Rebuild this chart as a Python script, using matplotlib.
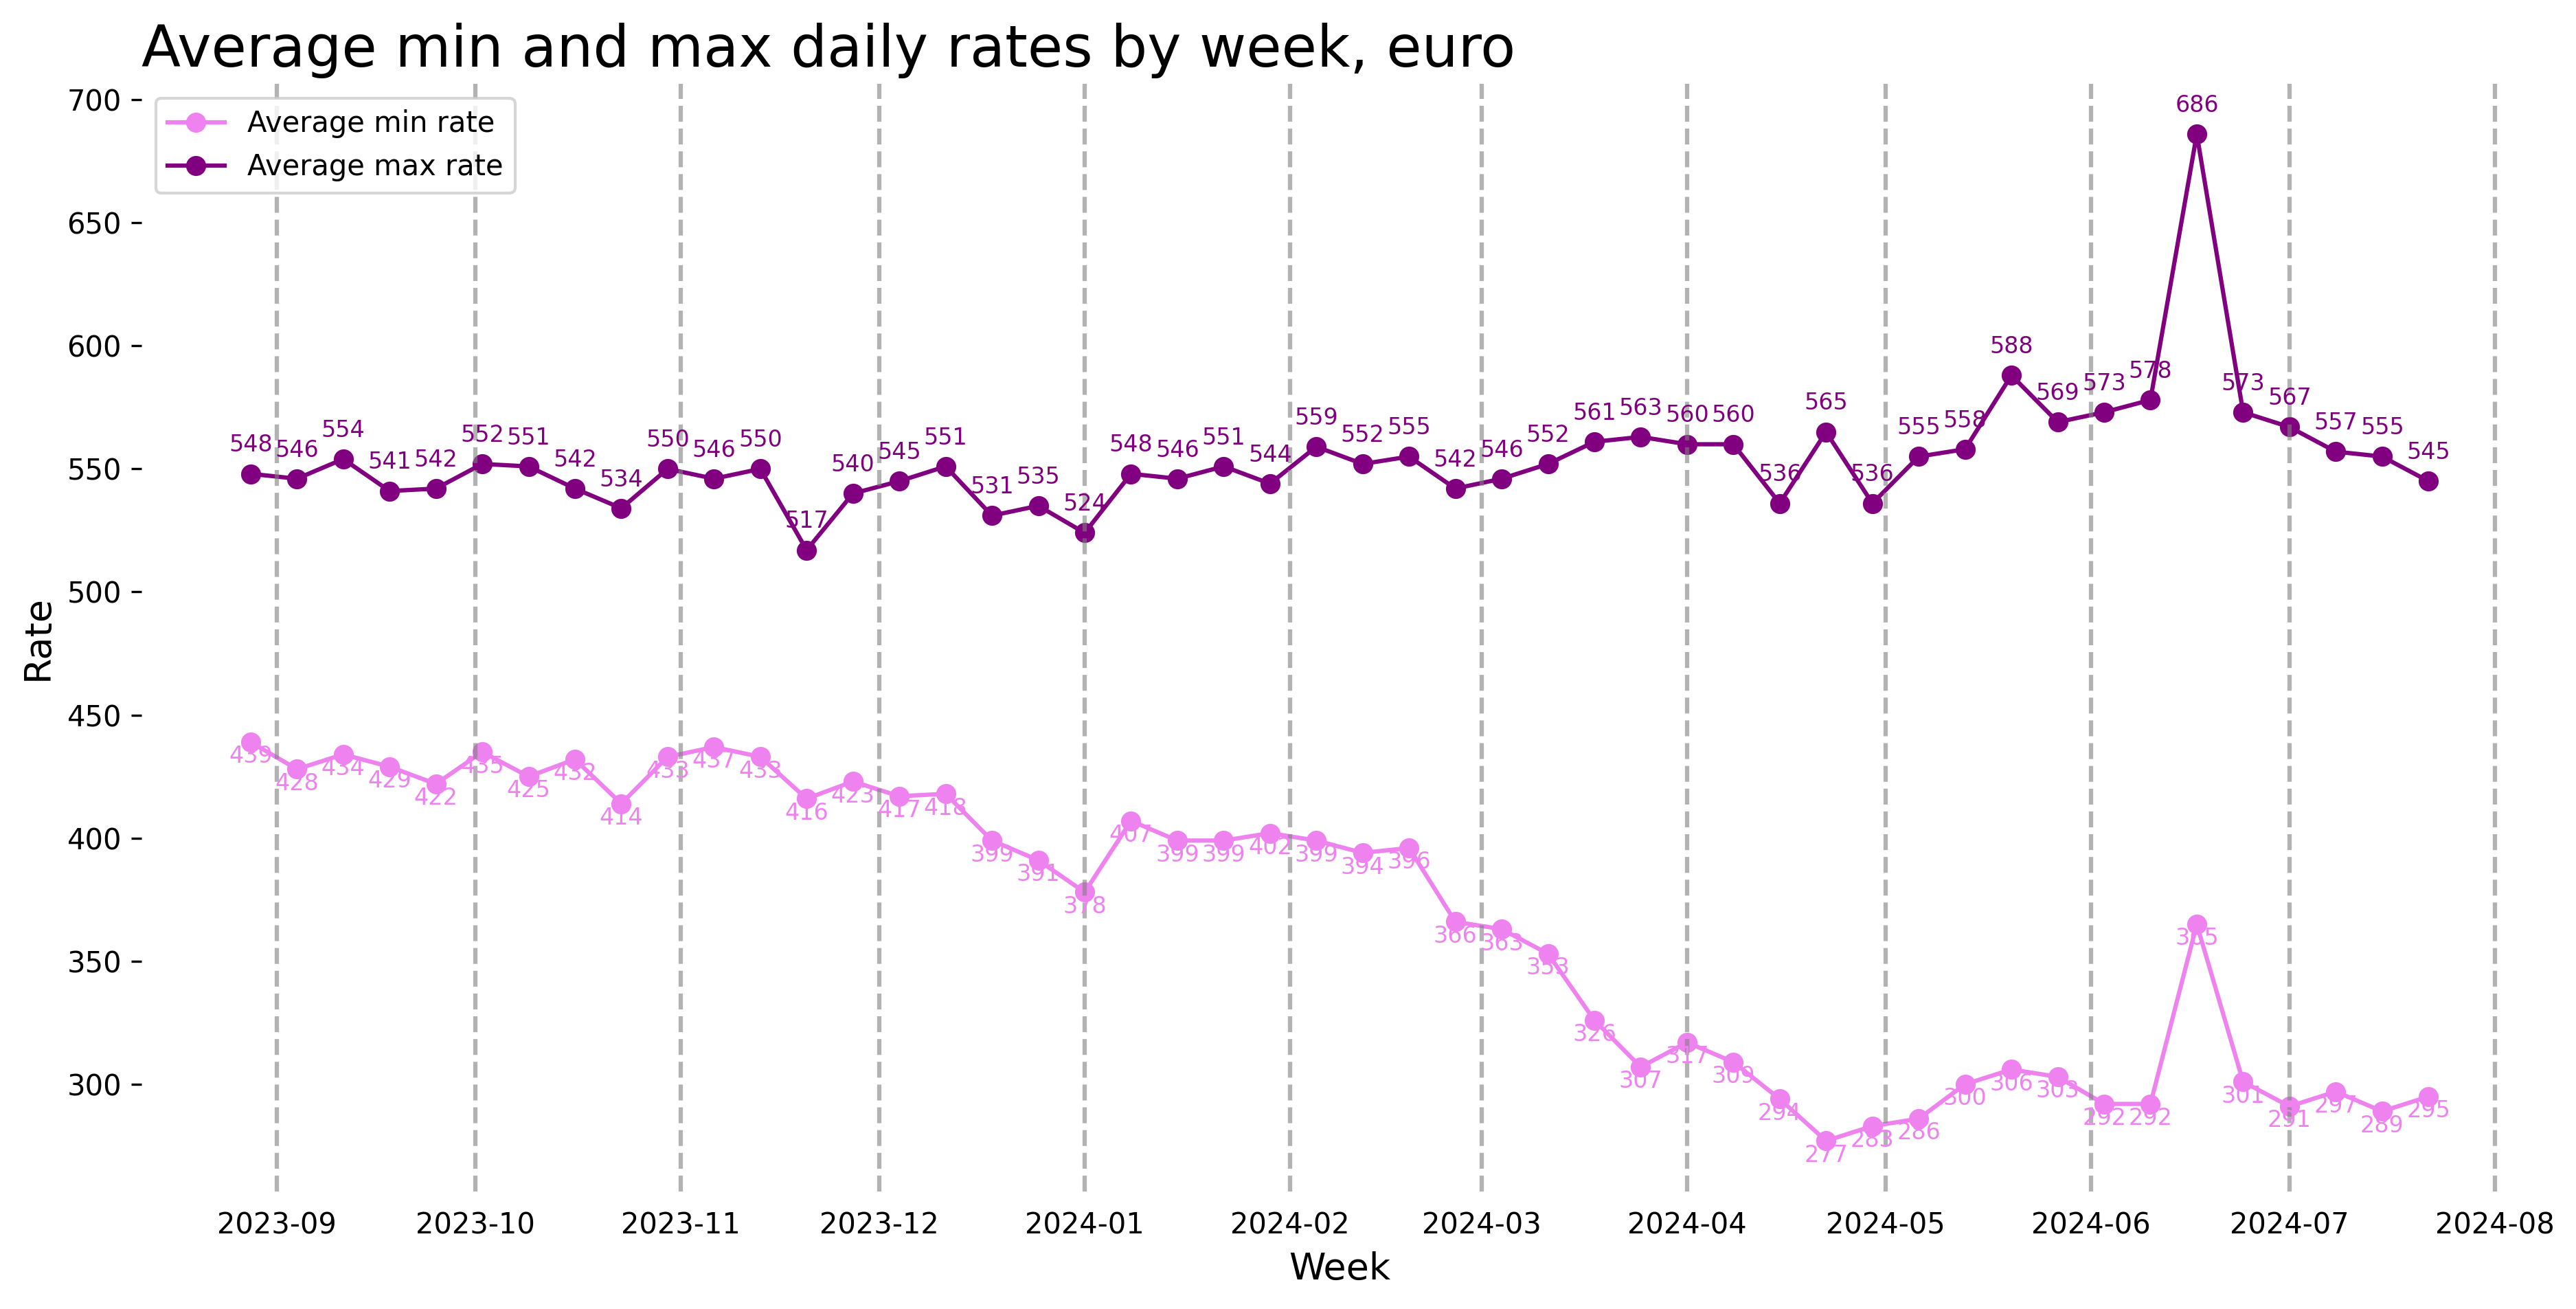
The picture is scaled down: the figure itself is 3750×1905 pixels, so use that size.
import pandas as pd
import matplotlib
matplotlib.use("Agg")
import matplotlib.pyplot as plt
import matplotlib.dates as mdates


# Weekly averages (week start, Mondays)
weeks = pd.date_range("2023-08-28", periods=48, freq="W-MON")

min_rate = [439, 428, 434, 429, 422, 435, 425, 432, 414, 433, 437, 433,
            416, 423, 417, 418, 399, 391, 378, 407, 399, 399, 402, 399,
            394, 396, 366, 363, 353, 326, 307, 317, 309, 294, 277, 283,
            286, 300, 306, 303, 292, 292, 365, 301, 291, 297, 289, 295]

max_rate = [548, 546, 554, 541, 542, 552, 551, 542, 534, 550, 546, 550,
            517, 540, 545, 551, 531, 535, 524, 548, 546, 551, 544, 559,
            552, 555, 542, 546, 552, 561, 563, 560, 560, 536, 565, 536,
            555, 558, 588, 569, 573, 578, 686, 573, 567, 557, 555, 545]

fig = plt.figure(figsize=(12.5, 6.35), dpi=300)
ax = fig.add_axes([0.055, 0.09, 0.93, 0.846])

ax.plot(weeks, min_rate, marker="o", color="violet", label="Average min rate")
ax.plot(weeks, max_rate, marker="o", color="purple", label="Average max rate")

# value labels
for d, v in zip(weeks, min_rate):
    ax.annotate(f"{v}", (d, v), textcoords="offset points", xytext=(0, -5),
                ha="center", va="center", fontsize=8, color="violet")
for d, v in zip(weeks, max_rate):
    ax.annotate(f"{v}", (d, v), textcoords="offset points", xytext=(0, 10),
                ha="center", va="center", fontsize=8, color="purple")

# month lines on top of the data
ax.set_axisbelow(False)
ax.xaxis.set_major_locator(mdates.MonthLocator())
ax.xaxis.set_major_formatter(mdates.DateFormatter("%Y-%m"))
ax.xaxis.grid(True, linestyle="--", color="gray", alpha=0.6, linewidth=1.5)
ax.tick_params(axis="x", color=(0, 0, 0, 0))

for s in ax.spines.values():
    s.set_visible(False)

ax.set_title("Average min and max daily rates by week, euro", loc="left", fontsize=20)
ax.set_xlabel("Week", fontsize=13)
ax.set_ylabel("Rate", fontsize=13)
ax.legend(loc="upper left")

plt.savefig("out.png", dpi=300)
